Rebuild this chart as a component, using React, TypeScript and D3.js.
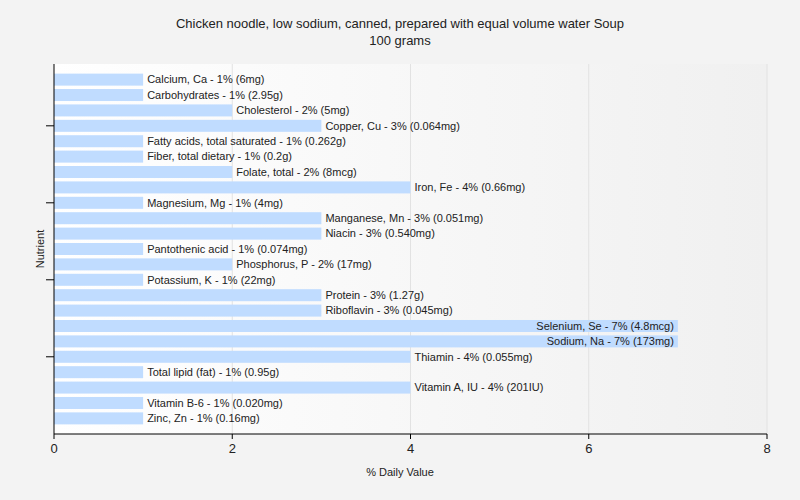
import React from 'react';
import * as d3 from 'd3';

const nutrients = [
  'Calcium, Ca', 'Carbohydrates', 'Cholesterol', 'Copper, Cu',
  'Fatty acids, total saturated', 'Fiber, total dietary', 'Folate, total',
  'Iron, Fe', 'Magnesium, Mg', 'Manganese, Mn', 'Niacin', 'Pantothenic acid',
  'Phosphorus, P', 'Potassium, K', 'Protein', 'Riboflavin', 'Selenium, Se',
  'Sodium, Na', 'Thiamin', 'Total lipid (fat)', 'Vitamin A, IU',
  'Vitamin B-6', 'Zinc, Zn',
];
const dailyValues = [1, 1, 2, 3, 1, 1, 2, 4, 1, 3, 3, 1, 2, 1, 3, 3, 7, 7, 4, 1, 4, 1, 1];
const amounts = [
  '6mg', '2.95g', '5mg', '0.064mg', '0.262g', '0.2g', '8mcg', '0.66mg',
  '4mg', '0.051mg', '0.540mg', '0.074mg', '17mg', '22mg', '1.27g',
  '0.045mg', '4.8mcg', '173mg', '0.055mg', '0.95g', '201IU', '0.020mg', '0.16mg',
];
const xTicks = [0, 2, 4, 6, 8];
const yTickIdx = [3, 8, 13, 18];

const W = 800, H = 500;
const left = 54, right = 767, top = 64, bottom = 434;
const font = 'Tahoma, "Liberation Sans", Arial, sans-serif';

export default function App() {
  const x = d3.scaleLinear().domain([0, 8]).range([left, right]);
  const y = d3.scaleBand<string>().domain(nutrients).range([top, bottom])
    .paddingInner(0.22).paddingOuter(0.625);

  return (
    <svg width={W} height={H} style={{ position: 'absolute', left: 0, top: 0, background: '#f3f3f3' }}
      fontFamily={font}>
      <defs>
        <linearGradient id="bg" x1="0" x2="1" y1="0" y2="0">
          <stop offset="0" stopColor="#ffffff" />
          <stop offset="1" stopColor="#f0f0f0" />
        </linearGradient>
      </defs>
      <rect x={0} y={0} width={W} height={H} fill="#f3f3f3" />
      <rect x={left} y={top} width={right - left} height={bottom - top} fill="url(#bg)" />
      {xTicks.slice(1).map(t => (
        <line key={t} x1={x(t)} x2={x(t)} y1={top} y2={bottom} stroke="#e2e2e2" />
      ))}
      <text x={400} y={28} textAnchor="middle" fontSize={13} fill="#222">
        Chicken noodle, low sodium, canned, prepared with equal volume water Soup
      </text>
      <text x={400} y={45} textAnchor="middle" fontSize={13} fill="#222">100 grams</text>
      {nutrients.map((n, i) => {
        const v = dailyValues[i];
        const label = `${n} - ${v}% (${amounts[i]})`;
        const y0 = y(n)!;
        const xe = x(v);
        const inside = xe + 4 + label.length * 5.6 > right;
        return (
          <g key={n}>
            <rect x={x(0)} y={y0} width={xe - x(0)} height={y.bandwidth()} fill="#c0dcff" />
            <text x={inside ? xe - 4 : xe + 4} y={y0 + y.bandwidth() / 2} dy="0.35em"
              textAnchor={inside ? 'end' : 'start'} fontSize={11} fill="#222">{label}</text>
          </g>
        );
      })}
      <line x1={left} x2={left} y1={top} y2={bottom} stroke="#000" />
      <line x1={left} x2={right} y1={bottom} y2={bottom} stroke="#000" />
      {yTickIdx.map(i => {
        const cy = y(nutrients[i])! + y.bandwidth() / 2;
        return <line key={i} x1={left - 8} x2={left} y1={cy} y2={cy} stroke="#000" />;
      })}
      {xTicks.map(t => (
        <g key={t}>
          <line x1={x(t)} x2={x(t)} y1={bottom} y2={bottom + 5} stroke="#000" />
          <text x={x(t)} y={bottom + 19} textAnchor="middle" fontSize={13} fill="#222">{t}</text>
        </g>
      ))}
      <text x={400} y={476} textAnchor="middle" fontSize={11} fill="#222">% Daily Value</text>
      <text transform={`translate(44,249) rotate(-90)`} textAnchor="middle" fontSize={11} fill="#222">Nutrient</text>
    </svg>
  );
}
